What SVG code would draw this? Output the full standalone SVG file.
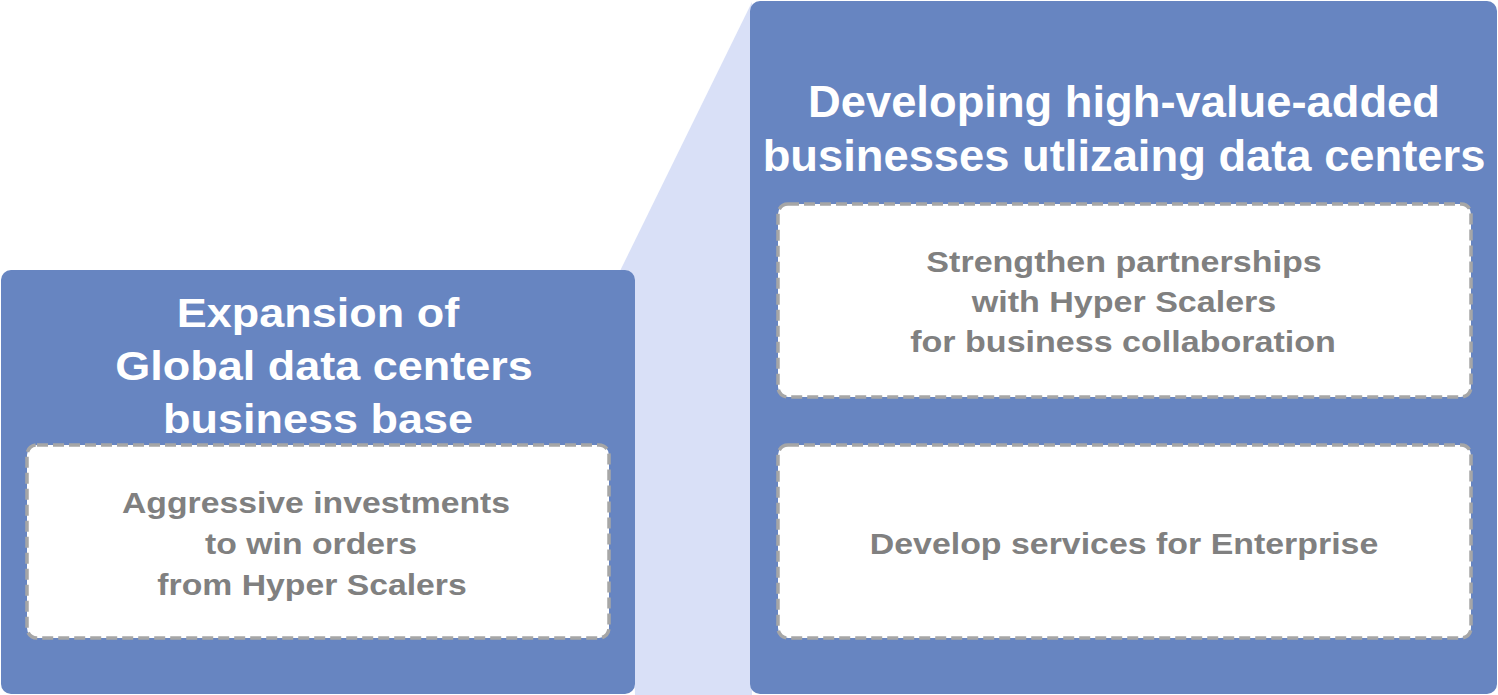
<svg xmlns="http://www.w3.org/2000/svg" width="1498" height="695" viewBox="0 0 1498 695">
<style>
.panel{fill:#6785c1;}
.inner{fill:#ffffff;stroke:#a6a6a6;stroke-width:3.5;stroke-dasharray:11 5;}
.title{font-family:"Liberation Sans",Arial,sans-serif;font-weight:bold;fill:#ffffff;text-anchor:middle;font-size:40px;}
.rtitle{font-size:44px;}
.body{font-family:"Liberation Sans",Arial,sans-serif;font-weight:bold;fill:#808080;text-anchor:middle;font-size:30px;}
</style>
<rect width="1498" height="695" fill="#ffffff"/>
<g id="connectors">
<polygon points="620,271 752,2 752,695 635,695" fill="#d9e0f7"/>
</g>
<g id="left-panel">
<rect class="panel" x="1" y="270" width="634" height="424" rx="10"/>
<text class="title" transform="translate(318,327) scale(1.125,1)">Expansion of</text>
<text class="title" transform="translate(324,380) scale(1.125,1)">Global data centers</text>
<text class="title" transform="translate(318,433) scale(1.125,1)">business base</text>
</g>
<g id="left-inner">
<rect class="inner" x="27" y="445" width="582" height="193" rx="10"/>
<text class="body" transform="translate(316,513) scale(1.125,1)">Aggressive investments</text>
<text class="body" transform="translate(311,554) scale(1.125,1)">to win orders</text>
<text class="body" transform="translate(312,595) scale(1.125,1)">from Hyper Scalers</text>
</g>
<g id="right-panel">
<rect class="panel" x="750" y="1" width="747" height="693" rx="10"/>
<text class="title rtitle" transform="translate(1124,117) scale(1.03,1)">Developing high-value-added</text>
<text class="title rtitle" transform="translate(1124,171) scale(1.03,1)">businesses utlizaing data centers</text>
</g>
<g id="right-inner-top">
<rect class="inner" x="778" y="204" width="693" height="193" rx="10"/>
<text class="body" transform="translate(1124,272) scale(1.135,1)">Strengthen partnerships</text>
<text class="body" transform="translate(1124,312) scale(1.135,1)">with Hyper Scalers</text>
<text class="body" transform="translate(1123,352) scale(1.135,1)">for business collaboration</text>
</g>
<g id="right-inner-bottom">
<rect class="inner" x="778" y="445" width="693" height="193" rx="10"/>
<text class="body" transform="translate(1124,554) scale(1.13,1)">Develop services for Enterprise</text>
</g>
</svg>
